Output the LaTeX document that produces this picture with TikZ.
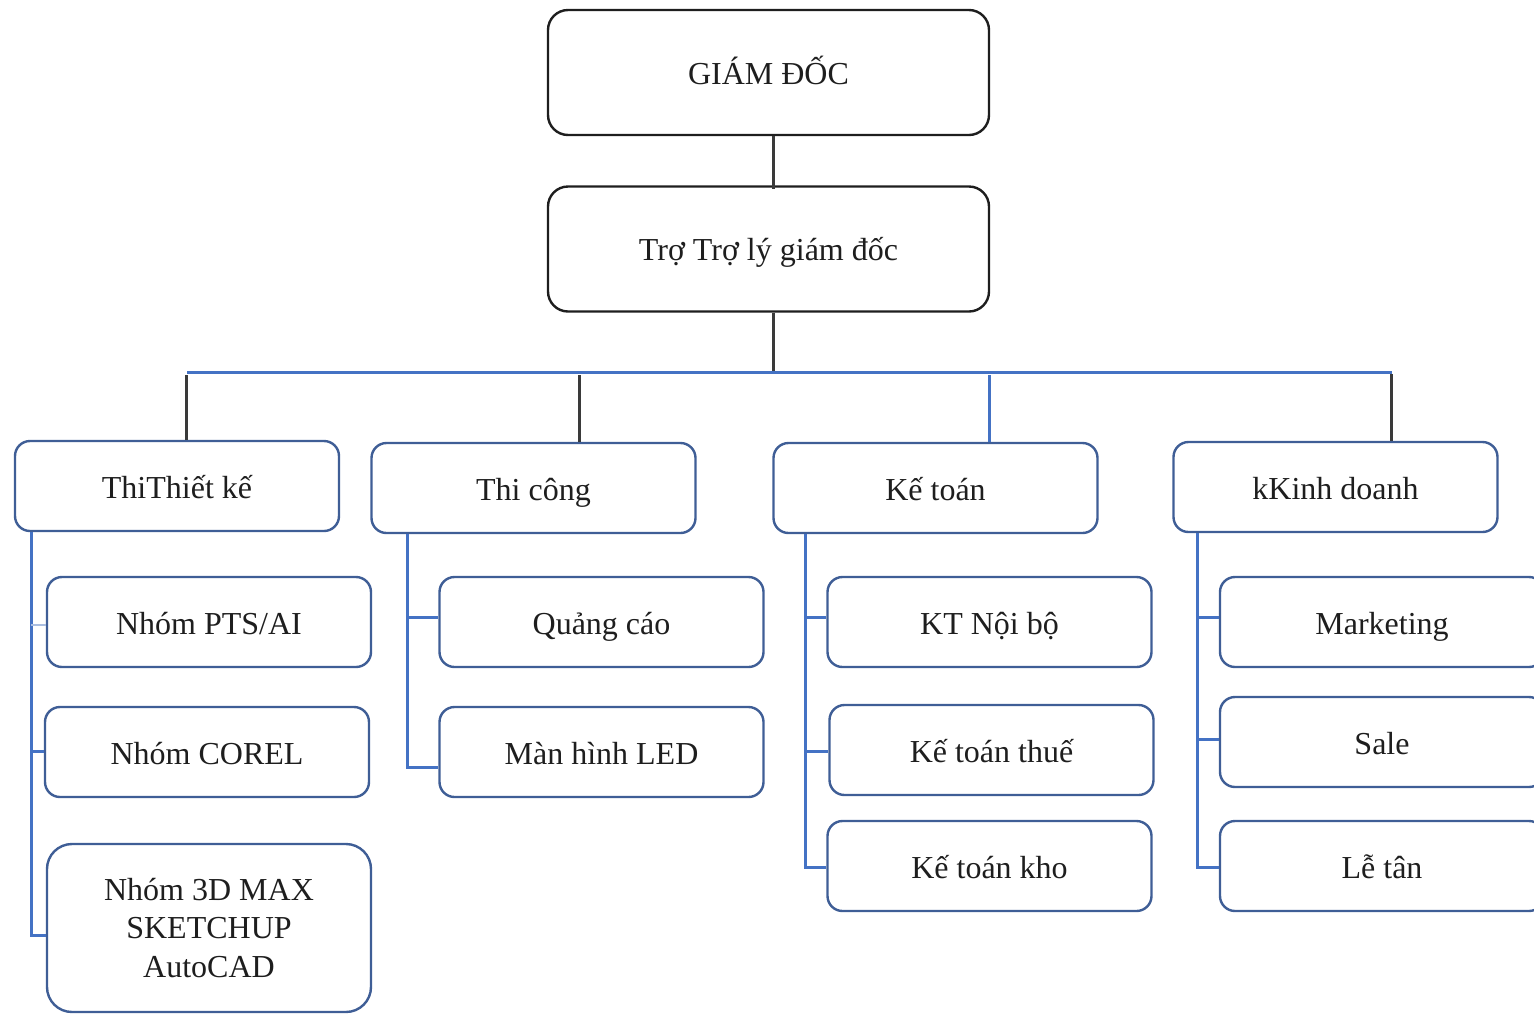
\documentclass[tikz,border=0pt]{standalone}
\usepackage{fontspec}
\setmainfont{Liberation Serif}
\definecolor{boxblue}{RGB}{63,94,150}
\definecolor{linkblue}{RGB}{68,114,196}
\definecolor{lightlink}{RGB}{170,190,225}
\definecolor{darkline}{RGB}{58,58,58}
\definecolor{topborder}{RGB}{30,30,30}
\definecolor{txt}{RGB}{30,30,30}
\tikzset{
  basebox/.style={rectangle, rounded corners=15pt, fill=white, line width=2.4pt,
    text=txt, font=\fontsize{32}{38.5}\selectfont, align=center, inner sep=0pt},
  oneline/.style={text height=30pt, text depth=5pt},
  topbox/.style={basebox, text height=27pt, text depth=4pt, rounded corners=20pt, draw=topborder, minimum width=441, minimum height=125},
  deptbox/.style={basebox, draw=boxblue, minimum width=324, minimum height=90},
  onebox/.style={deptbox, oneline},
  dk/.style={draw=darkline, line width=3pt},
  bl/.style={draw=linkblue, line width=3pt},
  lbl/.style={draw=lightlink, line width=2.5pt},
}
\begin{document}
\begin{tikzpicture}[x=1pt,y=-1pt]
\useasboundingbox (0,0) rectangle (1534,1013);
% top boxes
\node[topbox] (gd) at (768.5,72.5) {GIÁM ĐỐC};
\node[topbox] (tl) at (768.5,249) {Trợ Trợ lý giám đốc};
% departments
\node[onebox] (tk) at (177,486) {ThiThiết kế};
\node[onebox] (tc) at (533.5,488) {Thi công};
\node[onebox] (kt) at (935.5,488) {Kế toán};
\node[onebox] (kd) at (1335.5,487) {kKinh doanh};
% Thiết kế children
\node[onebox] (pts) at (209,622) {Nhóm PTS/AI};
\node[onebox] (corel) at (207,752) {Nhóm COREL};
\node[deptbox, rounded corners=25pt, minimum height=168] (max3d) at (209,928) {Nhóm 3D MAX\\SKETCHUP\\AutoCAD};
% Thi công children
\node[onebox] (qc) at (601.5,622) {Quảng cáo};
\node[onebox] (led) at (601.5,752) {Màn hình LED};
% Kế toán children
\node[onebox] (ktnb) at (989.5,622) {KT Nội bộ};
\node[onebox] (ktt) at (991.5,750) {Kế toán thuế};
\node[onebox] (ktk) at (989.5,866) {Kế toán kho};
% Kinh doanh children
\node[onebox] (mkt) at (1382,622) {Marketing};
\node[onebox] (sale) at (1382,742) {Sale};
\node[onebox] (lt) at (1382,866) {Lễ tân};

% trunk and bus
\coordinate (trunk) at (773,372);
\coordinate (busL) at (187,372);
\coordinate (busR) at (1392,372);
\draw[dk] (gd.south -| trunk) -- ([yshift=-4pt]tl.north -| trunk);
\draw[dk] (tl.south -| trunk) -- (trunk);
\draw[bl] (busL) -- (busR);
\coordinate (d1) at (186,375);
\coordinate (d2) at (579,375);
\coordinate (d3) at (989,375);
\coordinate (d4) at (1391,374);
\draw[dk] (d1) -- (tk.north -| d1);
\draw[dk] (d2) -- (tc.north -| d2);
\draw[bl] (d3) -- (kt.north -| d3);
\draw[dk] (d4) -- (kd.north -| d4);

% Thiết kế spine
\coordinate (a1) at (31,625);
\coordinate (a2) at (31,751);
\coordinate (a3) at (31,935);
\draw[bl] (tk.south -| a3) -- (a3) -- (max3d.west |- a3);
\draw[lbl] (a1) -- (pts.west |- a1);
\draw[bl] (a2) -- (corel.west |- a2);

% Thi công spine
\coordinate (b1) at (407,617);
\coordinate (b2) at (407,767);
\draw[bl] (tc.south -| b2) -- (b2) -- (led.west |- b2);
\draw[bl] (b1) -- (qc.west |- b1);

% Kế toán spine
\coordinate (c1) at (805,617);
\coordinate (c2) at (805,751);
\coordinate (c3) at (805,867);
\draw[bl] (kt.south -| c3) -- (c3) -- (ktk.west |- c3);
\draw[bl] (c1) -- (ktnb.west |- c1);
\draw[bl] (c2) -- (ktt.west |- c2);

% Kinh doanh spine
\coordinate (e1) at (1197,617);
\coordinate (e2) at (1197,739);
\coordinate (e3) at (1197,867);
\draw[bl] (kd.south -| e3) -- (e3) -- (lt.west |- e3);
\draw[bl] (e1) -- (mkt.west |- e1);
\draw[bl] (e2) -- (sale.west |- e2);
\end{tikzpicture}
\end{document}
